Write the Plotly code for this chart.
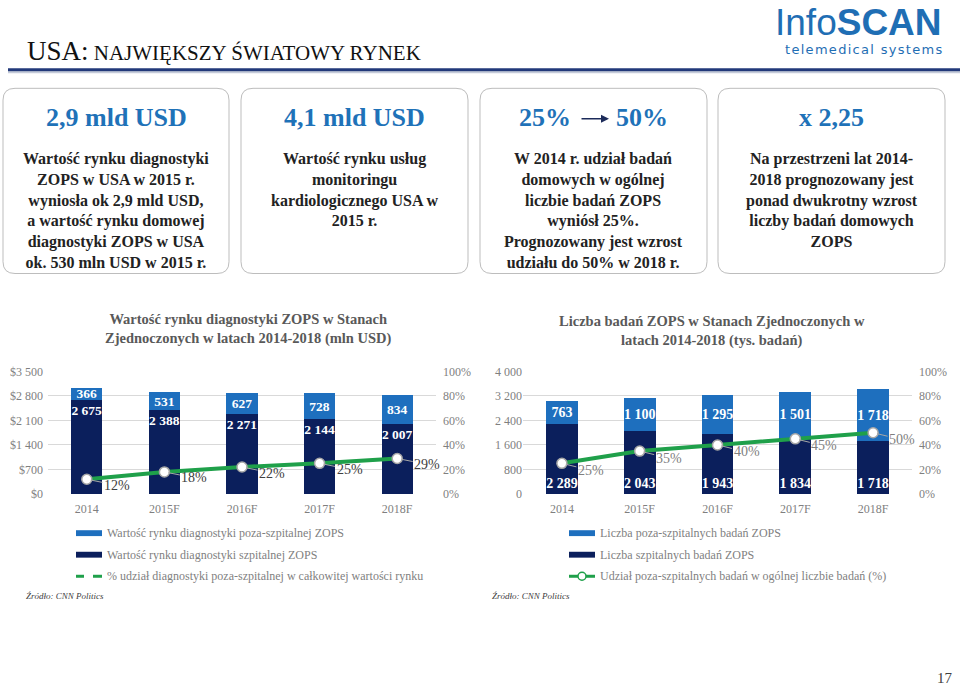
import plotly.graph_objects as go

# ---------------- data ----------------
years = ["2014", "2015F", "2016F", "2017F", "2018F"]

value_hospital = [2675, 2388, 2271, 2144, 2007]      # mln USD
value_outside = [366, 531, 627, 728, 834]            # mln USD
value_share = [12, 18, 22, 25, 29]                   # %

count_hospital = [2289, 2043, 1943, 1834, 1718]      # tys. badań
count_outside = [763, 1100, 1295, 1501, 1718]        # tys. badań
count_share = [25, 35, 40, 45, 50]                   # %

value_ticks = [0, 700, 1400, 2100, 2800, 3500]
count_ticks = [0, 800, 1600, 2400, 3200, 4000]
pct_ticks = [0, 0.2, 0.4, 0.6, 0.8, 1.0]

title_main = "NAJWIĘKSZY ŚWIATOWY RYNEK"
chart1_title = "Wartość rynku diagnostyki ZOPS w Stanach<br>Zjednoczonych w latach 2014-2018 (mln USD)"
chart2_title = "Liczba badań ZOPS w Stanach Zjednoczonych w<br>latach 2014-2018 (tys. badań)"

legend1 = ["Wartość rynku diagnostyki poza-szpitalnej ZOPS",
           "Wartość rynku diagnostyki szpitalnej ZOPS",
           "% udział diagnostyki poza-szpitalnej w całkowitej wartości rynku"]
legend2 = ["Liczba poza-szpitalnych badań ZOPS",
           "Liczba szpitalnych badań ZOPS",
           "Udział poza-szpitalnych badań w ogólnej liczbie badań (%)"]

box_headers = ["2,9 mld USD", "4,1 mld USD", None, "x 2,25"]
box_texts = [
    ["Wartość rynku diagnostyki", "ZOPS w USA w 2015 r.", "wyniosła ok 2,9 mld USD,",
     "a wartość rynku domowej", "diagnostyki ZOPS w USA", "ok. 530 mln USD w 2015 r."],
    ["Wartość rynku usług", "monitoringu", "kardiologicznego USA w", "2015 r."],
    ["W 2014 r. udział badań", "domowych w ogólnej", "liczbie badań ZOPS",
     "wyniósł 25%.", "Prognozowany jest wzrost", "udziału do 50% w 2018 r."],
    ["Na przestrzeni lat 2014-", "2018 prognozowany jest", "ponad dwukrotny wzrost",
     "liczby badań domowych", "ZOPS"],
]
source_text = "Źródło: CNN Politics"

# ---------------- styling ----------------
W, H = 960, 693
SERIF = "Liberation Serif"
NAVY = "#0B1F5C"
LIGHT = "#1E6FBE"
GREEN = "#1FA04A"
GRID = "#D9D9D9"
TICK = "#7F7F7F"
HEAD_BLUE = "#1F72B8"


def px(x):
    return x / W


def py(y):
    return 1 - y / H


def fmt(v):
    return f"{v:,}".replace(",", " ")


xpos = list(range(len(years)))

fig = go.Figure()


def bar(y, color, width, anchor, size, xa, ya):
    return go.Bar(x=xpos, y=y, xaxis=xa, yaxis=ya, width=width,
                  marker=dict(color=color, line=dict(width=0)),
                  text=[fmt(v) for v in y], textposition="inside", textangle=0,
                  insidetextanchor=anchor, constraintext="none", cliponaxis=False,
                  textfont=dict(family=SERIF, size=size, color="white", weight="bold"),
                  hoverinfo="skip", showlegend=False)


def share_line(s, xa, ya):
    return go.Scatter(x=xpos, y=[v / 100 for v in s], xaxis=xa, yaxis=ya,
                      mode="lines+markers", line=dict(color=GREEN, width=4),
                      marker=dict(size=10, color="white", line=dict(color="#A6A6A6", width=1.5)),
                      hoverinfo="skip", showlegend=False)


# ---- left chart
fig.add_trace(bar(value_hospital, NAVY, 0.40, "end", 13.5, "x", "y"))
fig.add_trace(bar(value_outside, LIGHT, 0.40, "middle", 13.5, "x", "y"))
fig.add_trace(share_line(value_share, "x", "y2"))

# ---- right chart
fig.add_trace(bar(count_hospital, NAVY, 0.41, "start", 14, "x2", "y3"))
fig.add_trace(bar(count_outside, LIGHT, 0.41, "middle", 14, "x2", "y3"))
fig.add_trace(share_line(count_share, "x2", "y4"))

tickfont = dict(family=SERIF, size=12, color=TICK)
common_x = dict(type="linear", range=[-0.5, len(years) - 0.5], tickmode="array", tickvals=xpos,
                ticktext=years, showgrid=False, zeroline=False, showline=False, ticks="",
                tickfont=tickfont, ticklabelstandoff=6, fixedrange=True)
common_y = dict(showgrid=True, gridcolor=GRID, gridwidth=1, zeroline=False, showline=False,
                ticks="", tickfont=tickfont, fixedrange=True)
pct_y = dict(showgrid=False, zeroline=False, showline=False, ticks="", range=[0, 1],
             tickvals=pct_ticks, tickformat=".0%", tickfont=tickfont, side="right",
             ticklabelstandoff=6, fixedrange=True)

fig.update_layout(
    width=W, height=H, margin=dict(l=0, r=0, t=0, b=0),
    paper_bgcolor="white", plot_bgcolor="rgba(0,0,0,0)",
    barmode="stack", showlegend=False,
    xaxis=dict(domain=[px(48), px(436)], anchor="y", **common_x),
    yaxis=dict(domain=[py(497), py(372)], anchor="x", range=[0, 3500], tickvals=value_ticks,
               ticktext=["$" + fmt(t) for t in value_ticks], ticklabelstandoff=4, **common_y),
    yaxis2=dict(overlaying="y", anchor="x", **pct_y),
    xaxis2=dict(domain=[px(523), px(912)], anchor="y3", **common_x),
    yaxis3=dict(domain=[py(497), py(372)], anchor="x2", range=[0, 4000], tickvals=count_ticks,
                ticktext=[fmt(t) for t in count_ticks], **common_y),
    yaxis4=dict(overlaying="y3", anchor="x2", **pct_y),
)

shapes = []
ann = []

# ---- header title + rule
ann.append(dict(xref="paper", yref="paper", x=px(25), y=py(45), xanchor="left", yanchor="middle",
                showarrow=False,
                text="<span style='font-size:27px'>USA:</span> " + title_main,
                font=dict(family=SERIF, size=21, color="#111111")))
shapes.append(dict(type="line", xref="paper", yref="paper", x0=px(8), x1=1, y0=py(66.5), y1=py(66.5),
                   line=dict(color="#C5CBD9", width=2)))
shapes.append(dict(type="line", xref="paper", yref="paper", x0=px(8), x1=1, y0=py(64), y1=py(64),
                   line=dict(color="#22397A", width=3)))

# ---- logo
ann.append(dict(xref="paper", yref="paper", x=px(944), y=py(16), xanchor="right", yanchor="middle",
                showarrow=False, text="Info<b>SCAN</b>",
                font=dict(family="Liberation Sans", size=37, color="#1F6EB4")))
ann.append(dict(xref="paper", yref="paper", x=px(944), y=py(43), xanchor="right", yanchor="middle",
                showarrow=False, text="\u200a".join("telemedical systems"),
                font=dict(family="DejaVu Sans", size=13, color="#1F6EB4")))


# ---- info boxes
def rounded(x0, y0, x1, y1, r):
    rx, ry = r / W, r / H
    X0, X1 = px(x0), px(x1)
    Y0, Y1 = py(y0), py(y1)  # Y0 top (bigger), Y1 bottom
    return (f"M {X0 + rx},{Y0} L {X1 - rx},{Y0} Q {X1},{Y0} {X1},{Y0 - ry} "
            f"L {X1},{Y1 + ry} Q {X1},{Y1} {X1 - rx},{Y1} L {X0 + rx},{Y1} "
            f"Q {X0},{Y1} {X0},{Y1 + ry} L {X0},{Y0 - ry} Q {X0},{Y0} {X0 + rx},{Y0} Z")


box_x = [(3, 229), (241, 468), (480, 707), (718, 945)]
for i, (bx0, bx1) in enumerate(box_x):
    shapes.append(dict(type="path", xref="paper", yref="paper", path=rounded(bx0, 83, bx1, 272, 12),
                       line=dict(color="#BDBDBD", width=1), fillcolor="white", layer="below"))
    cx = (bx0 + bx1) / 2
    if box_headers[i] is not None:
        ann.append(dict(xref="paper", yref="paper", x=px(cx), y=py(113), xanchor="center",
                        yanchor="middle", showarrow=False, text=box_headers[i],
                        font=dict(family=SERIF, size=26, color=HEAD_BLUE, weight="bold")))
    lines = box_texts[i]
    n = len(lines)
    ann.append(dict(xref="paper", yref="paper", x=px(cx), y=py(155 + (n - 1) * 21 / 2),
                    xanchor="center", yanchor="middle", showarrow=False, align="center",
                    text="<br>".join(lines),
                    font=dict(family=SERIF, size=16, color="#222222", weight="bold")))

# box 3 header with arrow
ann.append(dict(xref="paper", yref="paper", x=px(545), y=py(113), xanchor="center", yanchor="middle",
                showarrow=False, text="25%", font=dict(family=SERIF, size=26, color=HEAD_BLUE, weight="bold")))
ann.append(dict(xref="paper", yref="paper", x=px(642), y=py(113), xanchor="center", yanchor="middle",
                showarrow=False, text="50%", font=dict(family=SERIF, size=26, color=HEAD_BLUE, weight="bold")))
ann.append(dict(xref="paper", yref="paper", x=px(609), y=py(114), ax=-29, ay=0, text="",
                showarrow=True, arrowhead=2, arrowsize=1, arrowwidth=1.6, arrowcolor="#1C2B5A"))

# ---- chart titles
ann.append(dict(xref="paper", yref="paper", x=px(248), y=py(329), xanchor="center", yanchor="middle",
                showarrow=False, text=chart1_title,
                font=dict(family=SERIF, size=14.5, color="#595959", weight="bold")))
ann.append(dict(xref="paper", yref="paper", x=px(712), y=py(331), xanchor="center", yanchor="middle",
                showarrow=False, text=chart2_title,
                font=dict(family=SERIF, size=14.5, color="#595959", weight="bold")))

# ---- percent labels with leader lines
for xi, s in zip(xpos, value_share):
    ann.append(dict(xref="x", yref="y2", x=xi, y=s / 100, text=f"{s}%", showarrow=True,
                    ax=30, ay=6, arrowhead=0, arrowwidth=1, arrowcolor="#A6A6A6", standoff=4,
                    font=dict(family=SERIF, size=14, color="#404040")))
for xi, s in zip(xpos, count_share):
    ann.append(dict(xref="x2", yref="y4", x=xi, y=s / 100, text=f"{s}%", showarrow=True,
                    ax=29, ay=7, arrowhead=0, arrowwidth=1, arrowcolor="#A6A6A6", standoff=4,
                    font=dict(family=SERIF, size=14, color="#7F7F7F")))

# ---- custom legends
leg_rows = [537, 559, 581]
leg_font = dict(family=SERIF, size=12, color="#7F7F7F")
for (sx0, sx1, tx, labels, third) in [(76, 102, 105, legend1, "dash"), (569, 595, 598, legend2, "marker")]:
    for k, (row, lab) in enumerate(zip(leg_rows, labels)):
        if k < 2:
            shapes.append(dict(type="rect", xref="paper", yref="paper", x0=px(sx0), x1=px(sx1),
                               y0=py(row + 3), y1=py(row - 3), line=dict(width=0),
                               fillcolor=LIGHT if k == 0 else NAVY))
        elif third == "dash":
            shapes.append(dict(type="line", xref="paper", yref="paper", x0=px(sx0), x1=px(sx0 + 8),
                               y0=py(row), y1=py(row), line=dict(color=GREEN, width=3)))
            shapes.append(dict(type="line", xref="paper", yref="paper", x0=px(sx1 - 9), x1=px(sx1),
                               y0=py(row), y1=py(row), line=dict(color=GREEN, width=3)))
        else:
            shapes.append(dict(type="line", xref="paper", yref="paper", x0=px(sx0), x1=px(sx1),
                               y0=py(row), y1=py(row), line=dict(color=GREEN, width=3)))
            cxm = (sx0 + sx1) / 2
            shapes.append(dict(type="circle", xref="paper", yref="paper", x0=px(cxm - 4), x1=px(cxm + 4),
                               y0=py(row + 4), y1=py(row - 4), line=dict(color=GREEN, width=1.5),
                               fillcolor="white"))
        ann.append(dict(xref="paper", yref="paper", x=px(tx), y=py(row), xanchor="left", yanchor="middle",
                        showarrow=False, text=lab, font=leg_font))

# ---- sources and page number
for sx in (24, 490):
    ann.append(dict(xref="paper", yref="paper", x=px(sx), y=py(601), xanchor="left", yanchor="middle",
                    showarrow=False, text="<i>" + source_text + "</i>",
                    font=dict(family=SERIF, size=9, color="#404040")))
ann.append(dict(xref="paper", yref="paper", x=px(945), y=py(685), xanchor="center", yanchor="middle",
                showarrow=False, text="17", font=dict(family=SERIF, size=15, color="#404040")))

fig.update_layout(shapes=shapes, annotations=ann)
fig.write_html("out.html")
